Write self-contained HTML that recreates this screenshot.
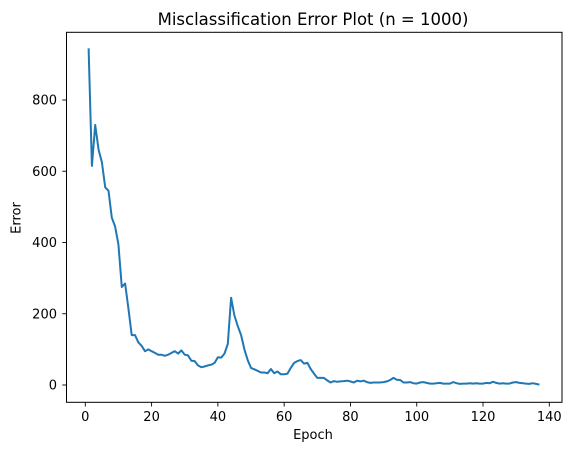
<!DOCTYPE html>
<html><head><meta charset="utf-8"><style>
body{margin:0;background:#fff;}
svg{display:block;font-family:"DejaVu Sans","Liberation Sans",sans-serif;}
</style></head><body>
<svg id="chart" width="572" height="455">
<text x="313" y="25" font-size="16.5" text-anchor="middle">Misclassification Error Plot (n = 1000)</text>
<g id="axes"></g>
<rect x="66.5" y="32.3" width="495.5" height="370" fill="none" stroke="#000" stroke-width="1"/>
<text x="313" y="439" font-size="13" text-anchor="middle">Epoch</text>
<text x="20.5" y="218" font-size="13" text-anchor="middle" transform="rotate(-90 20.5 218)">Error</text>
</svg>
<script>
const errors=[945,615,730,660,625,555,545,470,445,395,275,285,215,140,140,120,110,95,100,95,90,85,85,82,85,90,95,88,97,85,83,68,67,55,50,52,55,57,62,78,77,88,115,245,195,165,140,100,70,48,44,40,35,35,33,45,33,38,30,30,32,48,62,67,70,60,62,45,32,20,20,20,13,7,11,9,10,11,12,10,7,12,10,12,8,6,7,7,7,8,10,14,20,15,14,7,7,8,5,4,7,8,6,4,4,5,6,4,4,4,8,5,3,4,4,5,4,5,4,4,6,5,9,6,4,5,4,4,7,8,6,5,4,3,5,3,1];
const xTicks=[0,20,40,60,80,100,120,140];
const yTicks=[0,200,400,600,800];
const X=v=>85.3+v*(549.3-85.3)/140;
const Y=v=>385-v*(385-100)/800;
const NS="http://www.w3.org/2000/svg";
const g=document.getElementById('axes');
function mk(t,a){const e=document.createElementNS(NS,t);for(const k in a)e.setAttribute(k,a[k]);g.appendChild(e);return e;}
xTicks.forEach(v=>{
 const t=mk('line',{x1:X(v),x2:X(v),y1:402.3,y2:406.5,stroke:'#000','stroke-width':0.9});
 
 
 const l=mk('text',{x:X(v),y:421,'font-size':13,'text-anchor':'middle'});l.textContent=v;
 
 
});
yTicks.forEach(v=>{
 const t=mk('line',{x1:62.3,x2:66.5,y1:Y(v),y2:Y(v),stroke:'#000','stroke-width':0.9});
 
 
 const l=mk('text',{x:57,y:Y(v)+4.7,'font-size':13,'text-anchor':'end'});l.textContent=v;
 
 
});
const pts=errors.map((v,i)=>X(i+1).toFixed(1)+','+Y(v).toFixed(1)).join(' ');
const p=mk('polyline',{points:pts,fill:'none',stroke:'#1f77b4','stroke-width':2,'stroke-linejoin':'round'});


</script>
</body></html>
